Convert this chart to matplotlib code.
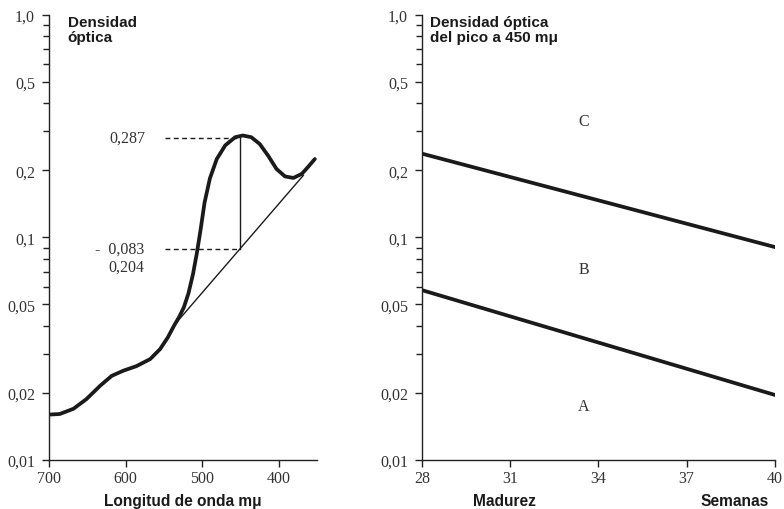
import matplotlib
matplotlib.use("Agg")
import matplotlib.pyplot as plt
from matplotlib.ticker import FixedLocator, NullFormatter, FuncFormatter


# left panel: absorption curve (wavelength in m-mu, optical density)
wavelength = [700, 686, 668, 651, 633, 618, 603, 586, 568, 555, 545, 537,
              530, 524, 518, 512, 507, 502, 497, 490, 481, 470, 457, 447,
              436, 425, 414, 403, 392, 381, 370, 362, 353]
density = [0.0160, 0.0161, 0.0170, 0.0188, 0.0216, 0.0239, 0.0252, 0.0264,
           0.0284, 0.0315, 0.0355, 0.0400, 0.0440, 0.0485, 0.0560, 0.0685,
           0.0850, 0.1090, 0.1430, 0.1840, 0.2250, 0.2590, 0.2820, 0.2870,
           0.2820, 0.2630, 0.2330, 0.2030, 0.1880, 0.1850, 0.1930, 0.2070,
           0.2250]

baseline_wl = [537, 368]
baseline_od = [0.0402, 0.1900]

peak_wl = 451
peak_top = 0.281
peak_base = 0.089
dash_start = 548

# right panel: boundaries between zones (weeks, optical density at 450 m-mu)
weeks = [28, 40]
limit_cb = [0.238, 0.0905]
limit_ba = [0.058, 0.0196]
zone_names = ["C", "B", "A"]
zone_weeks = [33.5, 33.5, 33.5]
zone_od = [0.335, 0.0725, 0.0174]

y_major = [0.01, 0.02, 0.05, 0.1, 0.2, 0.5, 1.0]
y_labels = ["0,01", "0,02", "0,05", "0,1", "0,2", "0,5", "1,0"]
y_minor = [0.03, 0.04, 0.06, 0.07, 0.08, 0.09, 0.3, 0.4, 0.6, 0.7, 0.8, 0.9]
left_xticks = [700, 600, 500, 400]
right_xticks = [28, 31, 34, 37, 40]

SERIF = "Liberation Serif"
SANS = "Liberation Sans"
INK = "#1a1a1a"
GREY = "#333333"


def style_axes(ax):
    ax.set_yscale("log")
    ax.set_ylim(0.01, 1.0)
    ax.spines["top"].set_visible(False)
    ax.spines["right"].set_visible(False)
    for s in ("left", "bottom"):
        ax.spines[s].set_linewidth(1.0)
        ax.spines[s].set_color("#222222")
    ax.yaxis.set_major_locator(FixedLocator(y_major))
    ax.yaxis.set_minor_locator(FixedLocator(y_minor))
    ax.yaxis.set_major_formatter(FuncFormatter(
        lambda v, p: y_labels[y_major.index(min(y_major, key=lambda m: abs(m - v)))]))
    ax.yaxis.set_minor_formatter(NullFormatter())
    ax.tick_params(axis="both", which="major", direction="out", length=5,
                   width=1.0, color="#222222", labelsize=11.5,
                   labelcolor=GREY)
    ax.tick_params(axis="y", which="major", pad=5)
    ax.tick_params(axis="x", which="major", pad=2)
    ax.tick_params(axis="y", which="minor", direction="out", length=4,
                   width=1.0, color="#222222")


def serif_ticks(ax):
    for lab in ax.get_xticklabels() + ax.get_yticklabels():
        lab.set_fontfamily(SERIF)


fig = plt.figure(figsize=(7.84, 5.10), dpi=100)
ax1 = fig.add_axes([0.0625, 0.096, 0.342, 0.873])
ax2 = fig.add_axes([0.538, 0.096, 0.4505, 0.873])

# left panel
style_axes(ax1)
ax1.set_xlim(700, 350)
ax1.set_xticks(left_xticks)
serif_ticks(ax1)
ax1.plot(wavelength, density, color=INK, lw=2.7, solid_capstyle="round",
         solid_joinstyle="round")
ax1.plot(baseline_wl, baseline_od, color=INK, lw=1.0)
ax1.plot([peak_wl, peak_wl], [peak_base, peak_top], color=INK, lw=1.0)
ax1.plot([dash_start, peak_wl], [peak_top, peak_top], color=INK,
         lw=1.0, ls=(0, (3.5, 2.5)))
ax1.plot([dash_start, peak_wl], [peak_base, peak_base], color=INK,
         lw=1.0, ls=(0, (3.5, 2.5)))
ytr = ax1.get_yaxis_transform()
ax1.text(0.36, peak_top, "0,287", transform=ytr, ha="right", va="center",
         fontsize=11.5, family=SERIF, color=GREY)
ax1.text(0.355, peak_base, "-  0,083", transform=ytr, ha="right", va="center",
         fontsize=11.5, family=SERIF, color=GREY)
ax1.text(0.355, peak_base * 0.83, "0,204", transform=ytr, ha="right",
         va="center", fontsize=11.5, family=SERIF, color=GREY)
ax1.text(0.07, 0.999, "Densidad\nóptica", transform=ax1.transAxes,
         ha="left", va="top", fontsize=11, fontweight="bold", family=SANS,
         color=INK, linespacing=1.1)
ax1.text(0.5, -0.075, "Longitud de onda mμ", transform=ax1.transAxes,
         ha="center", va="top", fontsize=11.2, fontweight="bold",
         family=SANS, color=INK)

# right panel
style_axes(ax2)
ax2.set_xlim(28, 40)
ax2.set_xticks(right_xticks)
serif_ticks(ax2)
ax2.plot(weeks, limit_cb, color=INK, lw=2.7)
ax2.plot(weeks, limit_ba, color=INK, lw=2.7)
for name, w, od in zip(zone_names, zone_weeks, zone_od):
    ax2.text(w, od, name, ha="center", va="center", fontsize=11.5,
             family=SERIF, color=GREY)
ax2.text(0.023, 0.999, "Densidad óptica\ndel pico a 450 mμ",
         transform=ax2.transAxes, ha="left", va="top", fontsize=11,
         fontweight="bold", family=SANS, color=INK, linespacing=1.1)
ax2.text(0.235, -0.075, "Madurez", transform=ax2.transAxes, ha="center",
         va="top", fontsize=11.2, fontweight="bold", family=SANS, color=INK)
ax2.text(0.887, -0.075, "Semanas", transform=ax2.transAxes, ha="center",
         va="top", fontsize=11.2, fontweight="bold", family=SANS, color=INK)

fig.savefig("out.png", dpi=100, facecolor="white")
